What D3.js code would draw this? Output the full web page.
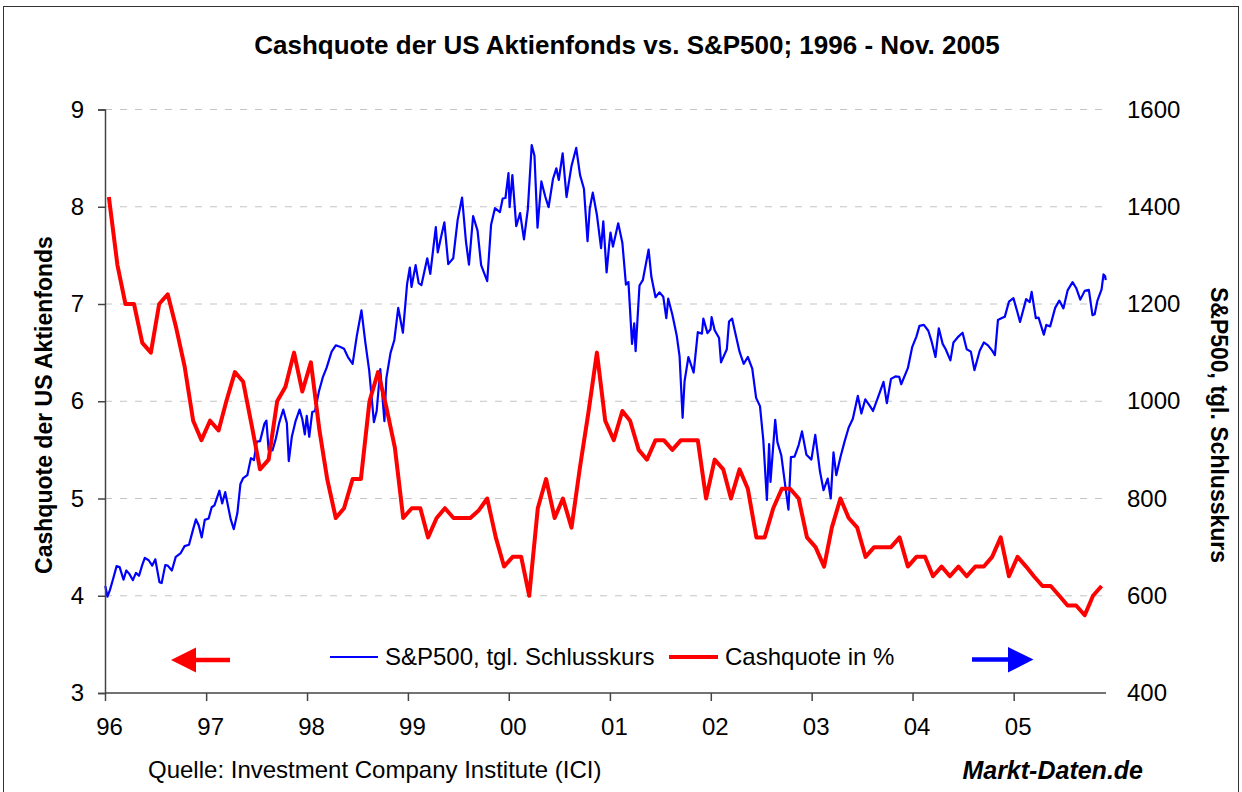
<!DOCTYPE html>
<html>
<head>
<meta charset="utf-8">
<script src="https://cdn.jsdelivr.net/npm/d3@7/dist/d3.min.js"></script>
<style>
  html, body { margin: 0; padding: 0; background: #fff; }
  svg { display: block; font-family: "Liberation Sans", Arial, sans-serif; }
</style>
</head>
<body>
<svg id="chart" width="1242" height="792"></svg>
<script>
// ---------- DATA ----------
const title = "Cashquote der US Aktienfonds vs. S&P500; 1996 - Nov. 2005";
const leftAxisTitle = "Cashquote der US Aktienfonds";
const rightAxisTitle = "S&P500, tgl. Schlusskurs";
const sourceText = "Quelle: Investment Company Institute (ICI)";
const brandText = "Markt-Daten.de";
const legendLabels = ["S&P500, tgl. Schlusskurs", "Cashquote in %"];

const leftTicks = [3, 4, 5, 6, 7, 8, 9];
const rightTicks = [400, 600, 800, 1000, 1200, 1400, 1600];
const yearTicks = ["1996", "1997", "1998", "1999", "2000", "2001", "2002", "2003", "2004", "2005"];

// Cash quota of US equity funds (%), monthly Jan 1996 - Nov 2005
const cashStart = "1996-01";
const cashValues = [
  8.1, 7.4, 7.0, 7.0, 6.6, 6.5, 7.0, 7.1, 6.75, 6.36, 5.8, 5.6,   // 1996
  5.8, 5.7, 6.0, 6.3, 6.2, 5.75, 5.3, 5.4, 6.0, 6.15, 6.5, 6.1,   // 1997
  6.4, 5.7, 5.2, 4.8, 4.9, 5.2, 5.2, 6.0, 6.3, 5.94, 5.52, 4.8,   // 1998
  4.9, 4.9, 4.6, 4.8, 4.9, 4.8, 4.8, 4.8, 4.88, 5.0, 4.6, 4.3,    // 1999
  4.4, 4.4, 4.0, 4.9, 5.2, 4.8, 5.0, 4.7, 5.33, 5.88, 6.5, 5.8,   // 2000
  5.6, 5.9, 5.8, 5.5, 5.4, 5.6, 5.6, 5.5, 5.6, 5.6, 5.6, 5.0,     // 2001
  5.4, 5.3, 5.0, 5.3, 5.1, 4.6, 4.6, 4.9, 5.1, 5.1, 5.0, 4.6,     // 2002
  4.5, 4.3, 4.7, 5.0, 4.8, 4.7, 4.4, 4.5, 4.5, 4.5, 4.6, 4.3,     // 2003
  4.4, 4.4, 4.2, 4.3, 4.2, 4.3, 4.2, 4.3, 4.3, 4.4, 4.6, 4.2,     // 2004
  4.4, 4.3, 4.2, 4.1, 4.1, 4.0, 3.9, 3.9, 3.8, 4.0, 4.1           // 2005
];

// S&P 500 closing prices (roughly bi-weekly incl. turning points)
const spDates = [
  "1996-01-02","1996-01-10","1996-01-19","1996-01-31","1996-02-12","1996-02-23","1996-03-08","1996-03-18","1996-03-29","1996-04-11","1996-04-22","1996-05-03","1996-05-14","1996-05-24","1996-06-07","1996-06-20","1996-07-01","1996-07-16","1996-07-24","1996-08-06","1996-08-15","1996-08-30","1996-09-13","1996-09-30","1996-10-15","1996-10-31","1996-11-15","1996-11-25","1996-12-05","1996-12-16","1996-12-27",
  "1997-01-10","1997-01-21","1997-01-31","1997-02-18","1997-02-28","1997-03-11","1997-03-31","1997-04-11","1997-04-24","1997-05-05","1997-05-15","1997-05-30","1997-06-12","1997-06-23","1997-07-03","1997-07-15","1997-07-31","1997-08-07","1997-08-15","1997-08-29","1997-09-10","1997-09-22","1997-10-07","1997-10-20","1997-10-27","1997-11-07","1997-11-20","1997-12-05","1997-12-15","1997-12-24","1997-12-31",
  "1998-01-09","1998-01-20","1998-01-30","1998-02-13","1998-02-27","1998-03-13","1998-03-31","1998-04-15","1998-04-30","1998-05-15","1998-05-29","1998-06-15","1998-06-30","1998-07-17","1998-07-31","1998-08-14","1998-08-31","1998-09-10","1998-09-23","1998-10-08","1998-10-15","1998-10-30","1998-11-13","1998-11-27","1998-12-14","1998-12-29",
  "1999-01-08","1999-01-14","1999-01-29","1999-02-09","1999-02-19","1999-03-12","1999-03-23","1999-04-12","1999-04-19","1999-04-30","1999-05-13","1999-05-27","1999-06-14","1999-06-30","1999-07-16","1999-07-30","1999-08-10","1999-08-25","1999-09-10","1999-09-23","1999-10-15","1999-10-29","1999-11-12","1999-11-30","1999-12-10","1999-12-20","1999-12-31",
  "2000-01-04","2000-01-14","2000-01-28","2000-02-11","2000-02-25","2000-03-10","2000-03-24","2000-04-03","2000-04-14","2000-04-28","2000-05-12","2000-05-24","2000-06-09","2000-06-21","2000-06-30","2000-07-14","2000-07-28","2000-08-15","2000-09-01","2000-09-15","2000-09-29","2000-10-12","2000-10-20","2000-10-31","2000-11-15","2000-11-30","2000-12-08","2000-12-20","2000-12-29",
  "2001-01-03","2001-01-12","2001-01-31","2001-02-15","2001-02-28","2001-03-09","2001-03-22","2001-03-30","2001-04-04","2001-04-18","2001-04-30","2001-05-21","2001-05-31","2001-06-15","2001-06-29","2001-07-13","2001-07-24","2001-07-31","2001-08-15","2001-08-31","2001-09-10","2001-09-21","2001-09-28","2001-10-12","2001-10-31","2001-11-15","2001-11-30","2001-12-05","2001-12-20","2001-12-31",
  "2002-01-04","2002-01-15","2002-01-31","2002-02-07","2002-02-28","2002-03-08","2002-03-19","2002-03-28","2002-04-15","2002-04-30","2002-05-15","2002-05-31","2002-06-14","2002-06-28","2002-07-10","2002-07-23","2002-07-31","2002-08-05","2002-08-22","2002-08-30","2002-09-13","2002-09-30","2002-10-09","2002-10-18","2002-10-31","2002-11-15","2002-11-27","2002-12-13","2002-12-31",
  "2003-01-14","2003-01-31","2003-02-13","2003-02-28","2003-03-11","2003-03-21","2003-03-31","2003-04-15","2003-04-30","2003-05-15","2003-05-30","2003-06-17","2003-06-30","2003-07-14","2003-07-31","2003-08-11","2003-08-29","2003-09-18","2003-09-30","2003-10-15","2003-10-31","2003-11-14","2003-11-21","2003-12-15","2003-12-31",
  "2004-01-15","2004-01-26","2004-02-11","2004-02-27","2004-03-10","2004-03-24","2004-04-05","2004-04-19","2004-04-30","2004-05-17","2004-05-28","2004-06-15","2004-06-30","2004-07-15","2004-07-30","2004-08-12","2004-08-31","2004-09-15","2004-09-30","2004-10-15","2004-10-25","2004-11-05","2004-11-19","2004-11-30","2004-12-15","2004-12-31",
  "2005-01-14","2005-01-24","2005-02-15","2005-02-28","2005-03-07","2005-03-22","2005-04-01","2005-04-20","2005-04-29","2005-05-13","2005-05-31","2005-06-15","2005-06-30","2005-07-15","2005-08-02","2005-08-15","2005-08-30","2005-09-15","2005-09-30","2005-10-13","2005-10-21","2005-10-31","2005-11-15","2005-11-22","2005-11-28","2005-11-30"
];
const spClose = [
  620,598,612,636,661,659,633,652,645,632,647,641,662,678,673,662,675,628,626,663,662,652,680,687,702,705,737,757,745,720,756,
  759,782,786,816,790,813,757,737,770,830,842,848,883,879,917,918,954,960,900,899,923,955,983,955,877,927,958,983,963,932,970,
  927,978,980,1020,1049,1069,1102,1115,1112,1108,1091,1077,1134,1187,1121,1063,957,980,1066,959,1047,1099,1126,1192,1141,1241,
  1275,1235,1280,1243,1239,1294,1262,1358,1306,1335,1368,1282,1294,1373,1419,1329,1281,1381,1351,1280,1247,1363,1397,1389,1417,1418,1469,
  1399,1465,1360,1387,1333,1395,1527,1505,1357,1452,1421,1399,1457,1479,1455,1510,1420,1484,1521,1465,1437,1329,1396,1429,1383,1315,1370,1265,1320,
  1347,1318,1366,1326,1240,1245,1118,1160,1103,1238,1249,1312,1256,1214,1224,1215,1171,1211,1178,1134,1093,966,1041,1091,1059,1142,1139,1170,1140,1148,
  1173,1146,1130,1080,1107,1164,1170,1147,1102,1077,1091,1067,1007,990,920,797,912,834,962,916,889,815,777,885,886,910,938,890,880,
  931,856,817,841,800,895,848,885,917,946,964,1011,975,1004,990,980,1008,1040,996,1046,1051,1050,1035,1068,1112,
  1133,1155,1157,1145,1123,1091,1150,1118,1107,1084,1121,1133,1141,1107,1102,1064,1104,1121,1115,1104,1095,1167,1171,1174,1205,1212,
  1184,1163,1210,1204,1225,1171,1172,1137,1157,1154,1192,1207,1191,1228,1245,1233,1209,1227,1229,1177,1179,1207,1230,1261,1257,1249
];

// ---------- CHART ----------
const svg = d3.select("#chart");
const parseDay = d3.timeParse("%Y-%m-%d");
const parseMonth = d3.timeParse("%Y-%m");
const parseYear = d3.timeParse("%Y");

const plot = { left: 105, right: 1106, top: 109.5, bottom: 693 };

const x = d3.scaleTime()
  .domain([new Date(1996, 0, 1), new Date(2005, 11, 1)])
  .range([plot.left, plot.right]);
const yL = d3.scaleLinear().domain([3, 9]).range([plot.bottom, plot.top]);
const yR = d3.scaleLinear().domain([400, 1600]).range([plot.bottom, plot.top]);

// frame
svg.append("rect")
  .attr("x", 3.5).attr("y", 6.5).attr("width", 1235).attr("height", 790)
  .attr("fill", "none").attr("stroke", "#333").attr("stroke-width", 1);

// gridlines
svg.append("g").selectAll("line")
  .data(leftTicks.filter(d => d > 3))
  .join("line")
  .attr("x1", plot.left).attr("x2", plot.right)
  .attr("y1", d => yL(d)).attr("y2", d => yL(d))
  .attr("stroke", "#c4c4c4").attr("stroke-width", 1)
  .attr("stroke-dasharray", "7,8");

// series
const spData = spDates.map((d, i) => ({ date: parseDay(d), v: spClose[i] }));
const c0 = parseMonth(cashStart);
const cashData = cashValues.map((v, i) => ({ date: d3.timeDay.offset(d3.timeMonth.offset(c0, i), 14), v }));

svg.append("path")
  .datum(spData)
  .attr("fill", "none").attr("stroke", "#0000ff").attr("stroke-width", 2.2)
  .attr("stroke-linejoin", "round")
  .attr("d", d3.line().x(d => x(d.date)).y(d => yR(d.v)));

svg.append("path")
  .datum(cashData)
  .attr("fill", "none").attr("stroke", "#ff0000").attr("stroke-width", 4)
  .attr("stroke-linejoin", "round")
  .attr("d", d3.line().x(d => x(d.date)).y(d => yL(d.v)));

// axes
const axisColor = "#444";
const gL = svg.append("g").attr("transform", `translate(${plot.left},0)`)
  .call(d3.axisLeft(yL).tickValues(leftTicks).tickSize(7).tickPadding(14).tickFormat(d3.format("d")));
const gB = svg.append("g").attr("transform", `translate(0,${plot.bottom})`)
  .call(d3.axisBottom(x).tickValues(yearTicks.map(parseYear)).tickSize(8).tickPadding(17)
    .tickFormat(d3.timeFormat("%y")));
gB.select(".domain").attr("d", `M${plot.left},0H${plot.right}`);
const gR = svg.append("g").attr("transform", `translate(${plot.right},0)`)
  .call(d3.axisRight(yR).tickValues(rightTicks).tickSize(0).tickPadding(21).tickFormat(d3.format("d")));
gR.select(".domain").remove();

[gL, gB, gR].forEach(g => {
  g.selectAll(".domain").attr("stroke", axisColor).attr("stroke-width", 1.5);
  g.selectAll(".tick line").attr("stroke", axisColor).attr("stroke-width", 1.5);
  g.selectAll("text").attr("fill", "#000").style("font-size", "24px")
    .style("font-family", '"Liberation Sans", Arial, sans-serif');
});
gB.selectAll("text").attr("dx", 4);

// titles
svg.append("text").attr("x", 627).attr("y", 54).attr("text-anchor", "middle")
  .style("font-size", "26px").style("font-weight", "bold").text(title);

svg.append("text").attr("transform", "translate(52,405) rotate(-90)")
  .attr("text-anchor", "middle").style("font-size", "23px").style("font-weight", "bold")
  .text(leftAxisTitle);

svg.append("text").attr("transform", "translate(1211,425) rotate(90)")
  .attr("text-anchor", "middle").style("font-size", "23px").style("font-weight", "bold")
  .text(rightAxisTitle);

// legend
const leg = svg.append("g");
leg.append("line").attr("x1", 330).attr("x2", 378).attr("y1", 657).attr("y2", 657)
  .attr("stroke", "#0000ff").attr("stroke-width", 2);
leg.append("text").attr("x", 385).attr("y", 665).style("font-size", "24px").text(legendLabels[0]);
leg.append("line").attr("x1", 669).attr("x2", 718).attr("y1", 657).attr("y2", 657)
  .attr("stroke", "#ff0000").attr("stroke-width", 4);
leg.append("text").attr("x", 725).attr("y", 665).style("font-size", "24px").text(legendLabels[1]);

// arrows
svg.append("line").attr("x1", 194).attr("x2", 230).attr("y1", 660).attr("y2", 660)
  .attr("stroke", "#ff0000").attr("stroke-width", 4.5);
svg.append("path").attr("d", "M171,660L196,647.5L196,672.5Z").attr("fill", "#ff0000");
svg.append("line").attr("x1", 972).attr("x2", 1010).attr("y1", 659.5).attr("y2", 659.5)
  .attr("stroke", "#0000ff").attr("stroke-width", 4.5);
svg.append("path").attr("d", "M1033.5,659.5L1008,647L1008,672.5Z").attr("fill", "#0000ff");

// footer
svg.append("text").attr("x", 148).attr("y", 778).style("font-size", "24px").text(sourceText);
svg.append("text").attr("x", 1143).attr("y", 779).attr("text-anchor", "end")
  .style("font-size", "25px").style("font-weight", "bold").style("font-style", "italic")
  .text(brandText);
</script>
</body>
</html>
